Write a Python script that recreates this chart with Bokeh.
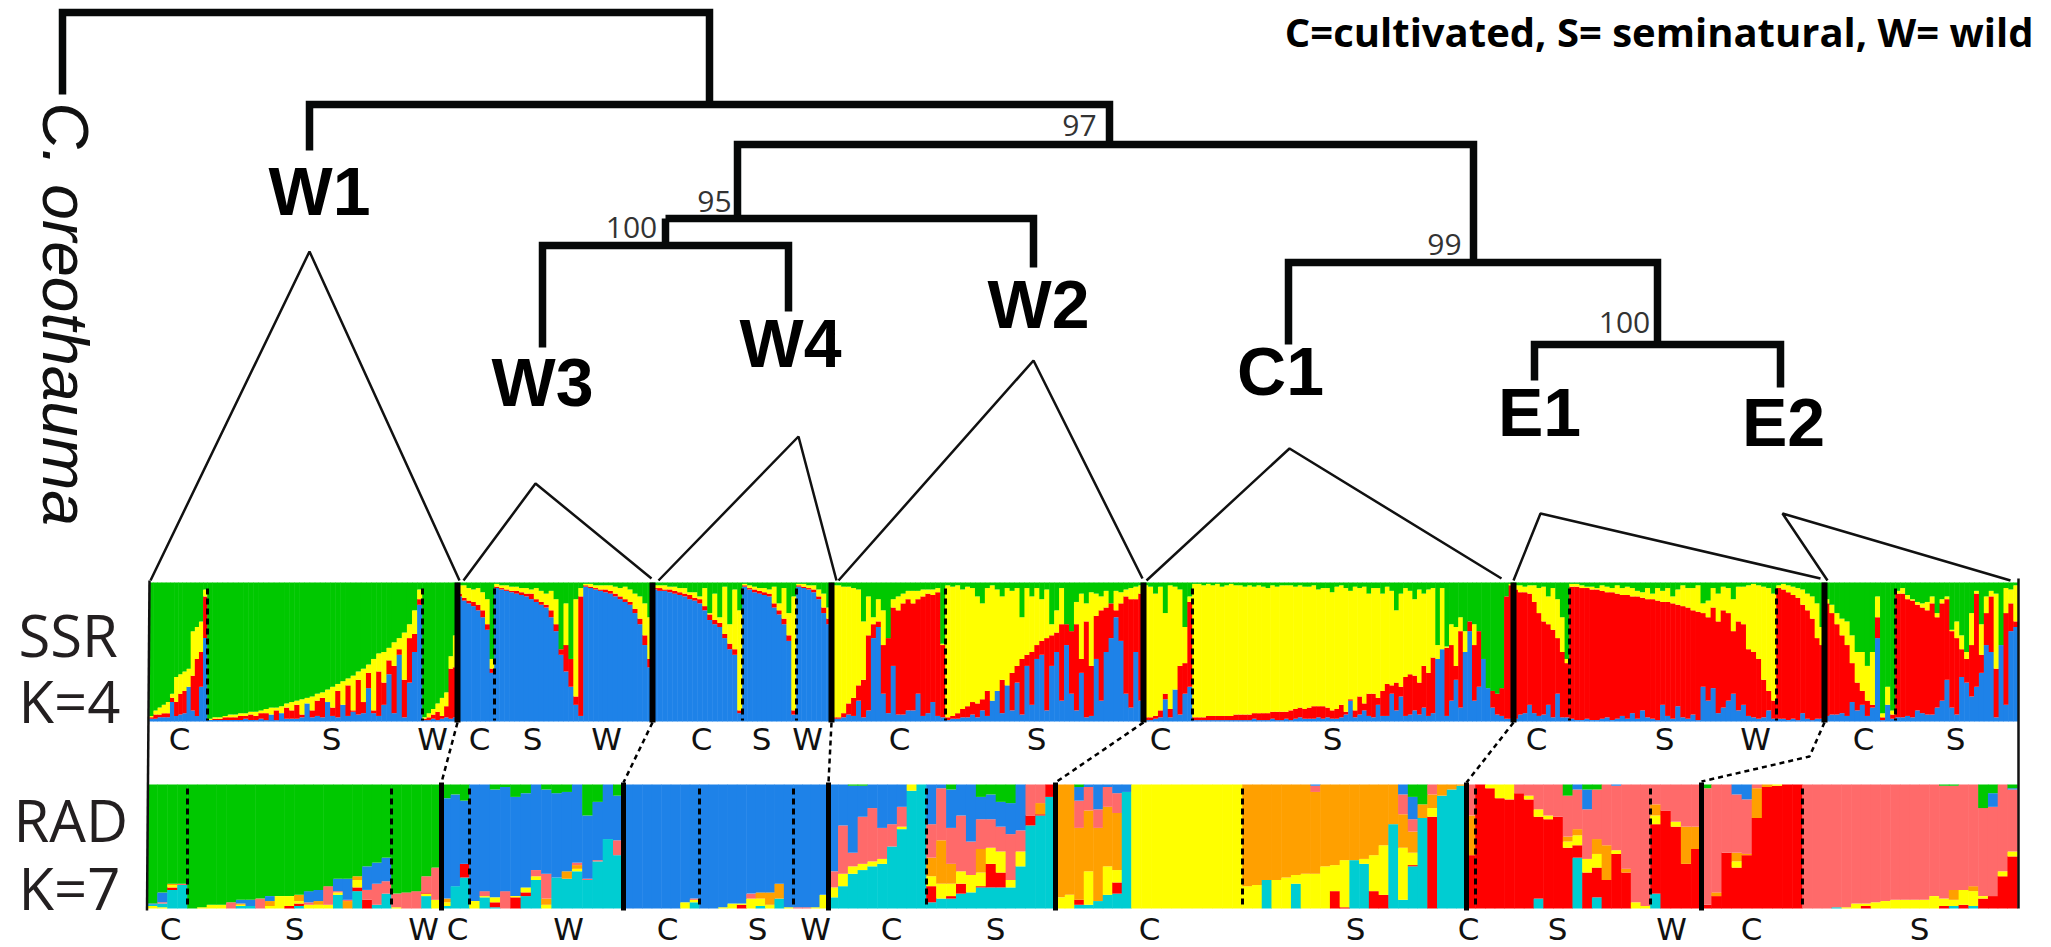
from math import pi
from bokeh.plotting import figure
from bokeh.models import ColumnDataSource, Range1d
from bokeh.core.properties import value
from bokeh.embed import file_html
from bokeh.resources import INLINE

# ---------- palette ----------
COL = {"G": "#00C800", "B": "#1E82E8", "R": "#FF0000", "Y": "#FFFF00",
       "C": "#00CDD2", "P": "#FF6A6A", "O": "#FFA000"}

# ---------- SSR K=4: cumulative tops (%) per individual: blue, red, yellow; green fills to 100 ----------
w1c_b = [2,2,3,3,3,14,4,5,6,26,8,4,25,60]
w1c_r = [3,5,5,6,6,17,14,20,22,25,33,45,50,90]
w1c_y = [4,8,10,12,14,20,32,34,36,38,65,68,72,95]
w1s_b = [1,1,1,1,1,1,1,2,1,1,2,1,8,1,10,2,2,2,3,14,3,4,3,20,4,3,22,4,7,5,6,24,6,4,12,34,6,48,3,28,50,84]
w1s_r = [1,2,2,3,3,3,4,4,5,4,6,6,5,8,6,10,8,12,5,13,8,15,17,14,10,22,12,26,8,30,14,35,8,36,28,44,40,52,30,60,63,88]
w1s_y = [2,3,3,4,5,5,6,6,7,7,8,9,10,10,11,13,14,15,16,17,18,20,21,23,25,27,29,31,33,36,38,41,45,49,50,53,57,60,64,70,80,95]
w1w_b = [1,1,2,1,2,3,2,3]
w1w_r = [2,3,5,7,4,11,38,39]
w1w_y = [3,6,9,13,17,21,47,62]
w3c_b = [90,87,85,83,80,75,66,35]
w3c_r = [92,89,87,86,84,80,70,38]
w3c_y = [98,98,96,95,96,93,88,45]
w3s_b = [96,95,94,93,92,91,90,88,86,84,82,75,65,48,36,25,12,4]
w3s_r = [97,96,95,94,94,93,92,92,88,86,84,80,70,52,55,45,18,90]
w3s_y = [99,98,98,97,97,96,96,95,96,94,92,94,88,52,85,45,88,96]
w3w_b = [97,96,95,94,93,92,90,88,86,84,78,70,55,39]
w3w_r = [98,97,96,95,95,94,92,90,88,86,81,74,62,45]
w3w_y = [99,99,98,98,98,98,97,96,97,95,92,90,85,75]
w4c_b = [95,94,94,93,92,91,90,88,87,85,80,73,70,68,60,52,48,6]
w4c_r = [96,96,95,95,94,93,92,91,89,88,83,77,73,71,63,56,52,8]
w4c_y = [98,98,98,97,97,96,96,93,93,90,96,78,92,75,97,70,95,80]
w4s_b = [97,95,93,92,91,90,82,77,70,58,5]
w4s_r = [98,96,95,94,93,92,85,80,74,62,8]
w4s_y = [99,98,97,96,96,95,97,85,96,78,90]
w4w_b = [97,96,95,93,88,78,70]
w4w_r = [98,97,96,95,90,82,74]
w4w_y = [99,99,98,98,95,92,82]
w2c_b = [2,2,3,5,4,15,3,8,60,68,20,6,40,5,5,8,8,20,4,6,14,4,3]
w2c_r = [3,3,6,13,17,26,30,62,70,72,55,70,82,80,85,88,85,88,90,92,91,93,55]
w2c_y = [98,98,97,97,96,95,72,90,75,88,80,60,88,90,92,94,94,94,95,95,95,96,56]
w2s_b = [1,2,2,3,3,5,3,8,4,20,25,6,32,8,28,5,40,12,45,48,8,40,50,15,55,20,8,35,3,4,45,15,50,60,75,58,20,10,50,15]
w2s_r = [3,4,6,9,11,14,13,16,22,15,22,30,26,35,40,45,48,50,55,58,60,62,64,70,71,71,70,45,72,40,76,80,82,85,80,85,90,88,88,92]
w2s_y = [98,97,98,95,97,96,90,85,96,98,95,90,96,94,96,75,96,90,96,88,95,70,80,96,70,65,86,92,85,93,92,90,94,85,94,93,95,96,97,98]
c1c_b = [1,1,2,3,16,3,23,5,20,25]
c1c_r = [3,3,4,8,20,9,23,40,42,86]
c1c_y = [98,97,92,97,78,98,97,95,68,90]
c1s_b = [1,1,1,1,1,1,1,1,1,1,1,1,1,2,1,1,1,2,1,1,2,1,2,3,2,2,2,3,2,3,2,2,3,5,15,3,5,8,4,3,12,4,4,20,8,18,4,5,8,5,10,4,6,50,52,4,15,30,10,70,65,15,25,60,40,10,5,4,2,2]
c1s_r = [3,3,3,4,4,4,4,4,4,5,5,5,5,6,6,6,6,7,7,7,7,8,9,10,9,10,11,11,11,10,8,9,12,7,16,8,18,13,20,20,17,22,27,26,28,25,32,34,33,28,40,35,46,45,52,53,55,40,65,50,75,55,78,82,85,82,75,88,95,98]
c1s_y = [99,99,98,99,98,99,97,98,99,98,98,97,98,97,98,97,96,98,97,98,98,98,97,98,97,97,98,95,96,96,93,97,98,96,94,97,96,97,92,96,96,92,97,94,80,92,96,94,88,95,92,95,96,55,96,54,70,68,75,65,72,70,65,45,24,22,20,24,90,99]
e1c_b = [2,5,6,12,6,4,5,12,3,20,3,3]
e1c_r = [95,93,93,92,86,78,72,70,66,60,50,42]
e1c_y = [98,98,97,98,98,96,97,90,96,88,75,45]
e1s_b = [2,1,1,2,1,1,2,3,1,2,4,2,6,2,8,3,2,1,12,4,2,11,3,2,5,1,25,15,24,6,10,15,20,8,12,4,3,2,3,8,2]
e1s_r = [97,97,96,96,95,95,94,93,93,92,91,91,90,90,89,88,88,87,86,86,85,84,83,82,80,79,78,75,82,72,80,78,65,72,70,52,50,45,30,22,15]
e1s_y = [99,99,98,97,97,96,98,97,96,98,96,97,96,94,93,96,92,96,94,96,90,95,98,96,96,98,85,87,96,92,97,96,88,97,97,98,99,98,97,96,92]
e1w_b = [2,2,1,2,1,6,2,1,2,2]
e1w_r = [96,95,93,91,89,84,80,74,60,55]
e1w_y = [98,99,98,97,96,95,92,90,85,68]
e2c_b = [4,5,5,6,4,14,8,12,4,10,60,1,15,2]
e2c_r = [85,78,70,62,55,42,28,22,15,12,75,3,12,5]
e2c_y = [88,84,78,74,72,62,50,50,40,50,90,6,25,8]
e2s_b = [3,3,4,3,8,6,5,5,10,15,30,10,5,32,28,18,25,35,55,50,3,70,12,65,68]
e2s_r = [92,92,88,87,84,82,80,85,75,85,88,65,60,52,45,55,92,48,78,90,38,60,78,85,72]
e2s_y = [94,96,91,88,86,85,86,90,78,88,90,66,72,62,50,78,94,70,90,94,92,55,96,95,98]

# ---------- RAD K=7: each individual is "colour + cumulative top %" from bottom to top ----------
rad_w1c = ["Y2 C3 B4 G100", "Y1 C4 P5 B13 G100", "C15 R17 Y19 O20 G100", "C19 P20 G100"]
rad_w1s = ["G100", "Y1 G100", "Y3 G100", "Y3 G100", "P5 G100", "C2 Y3 O4 B7 G100", "C2 B7 G100", "P8 G100",
           "Y2 O6 B10 G100", "Y10 G100", "R2 Y10 G100", "C2 R4 Y6 O11 G100", "Y3 P5 B14 G100", "Y3 O6 B15 G100",
           "Y3 P18 G100", "C11 Y13 P14 B24 G100", "O6 P7 B24 G100", "C14 R17 Y23 O26 G100", "R7 P15 B34 G100",
           "C3 P20 B37 G100", "C12 P22 B41 G100"]
rad_w1w = ["Y1 P12 G100", "P13 G100", "P14 G100", "C10 Y12 R13 P26 G100", "Y7 P33 G100"]
rad_w3c = ["C2 Y5 O8 B89 G100", "C18 B92 G100", "C25 R36 B87 G100"]
rad_w3w = ["Y6 B100", "C9 Y10 P14 B100", "C1 R5 Y9 B96 G100", "P14 B98 G100", "R9 Y10 B90 G100", "C10 R13 Y17 B93 G100",
           "C23 Y26 P31 B100", "Y3 O8 P28 B96 G100", "C25 B93 G100", "C24 O30 B94 G100", "C30 Y32 O35 P37 B100",
           "C23 P24 B75 G100", "C38 P39 B86 G100", "C56 B100", "C43 P55 B91 G100"]
rad_w4c = ["B100"] * 6 + ["Y5 B100", "C5 Y7 P8 B100"]
rad_w4s = ["B100", "B100", "Y1 B100", "Y4 B100", "R3 Y4 B100", "Y8 P12 B100", "C2 Y8 O13 B100", "Y3 O13 B100", "C8 O20 B100", "Y1 B100"]
rad_w4w = ["P1 B100", "P1 B100", "Y1 B100", "Y11 B100"]
rad_w2c = ["C9 Y17 P30 B100", "C18 Y28 P67 B100", "C28 Y34 P45 B99 G100", "C31 Y36 P74 B99 G100", "C34 Y38 P81 B100",
           "C36 Y40 P65 B100", "C50 P68 B100", "C64 Y66 P82 B100", "C95 Y100", "C100"]
rad_w2s = ["C5 R18 Y26 O41 P68 B100", "C8 Y20 O55 P97 B100", "C8 R10 Y20 O36 P65 B96 G100", "C12 R20 Y30 P75 B100",
           "C13 Y27 P54 B100", "C17 R18 Y29 O48 P72 B90 G100", "C17 R36 Y49 P72 B92 G100", "C17 R29 Y46 P66 B86 G100",
           "C17 Y23 P60 B85 G100", "C34 Y46 P63 B100", "C67 R75 P100", "C75 R76 O85 P100", "C90 R100"]
rad_x1 = ["Y9 O100", "Y11 O100", "C3 R7 O65 P87 B98 G100", "C3 Y30 O79 P98 B100", "C6 O65 P80 B100",
          "C11 Y34 O82 P98 B100", "C12 R21 Y31 O77 P93 B100", "C94 B100"]
rad_c1c = ["Y100"] * 11
rad_c1s = ["Y18 O100", "Y19 O100", "C23 O100", "Y23 O100", "Y25 O100", "C20 Y27 O100", "Y28 O100", "Y28 O94 P99 B100",
           "Y34 O100", "R14 Y35 O100", "R1 Y39 O100", "C39 O100", "C36 Y40 O100", "R14 Y43 O100", "R11 Y51 O100", "C68 O100",
           "C7 Y49 O76 P92 B100", "C34 R35 Y45 O62 P72 B90 G100", "C73 O84 G100", "R74 Y81 O92 P100", "C91 O100", "C96 O100", "C99 O100"]
rad_e1c = ["R43 O75 P100"]
rad_e1s = ["R100", "R97 Y100", "R89 Y100", "R88 Y100", "R93 P100", "R88 Y91 P100", "C8 R74 Y80 P100", "R72 Y75 P100", "R74 P100",
           "R49 Y54 O58 P91 G100", "C41 R51 Y59 O64 P96 B100", "R29 Y40 P80 B96 G100", "C9 R33 Y44 O56 P96 G100", "R23 O51 P100",
           "R44 Y47 P99 B100", "R29 O32 P100", "Y5 P100", "Y2 P100"]
rad_e1w = ["C12 R68 Y75 O84 P100", "R79 P100", "R66 Y70 P100", "R36 O66 P100", "R48 O66 P100"]
rad_e2c = ["R3 P97 G100", "R10 O13 P100", "R45 P100", "R33 Y38 O45 P92 B100", "R43 O44 P88 B100", "R73 O97 P100", "R98 O100", "R99 Y100", "R100", "R100"]
rad_e2s = ["P100", "P100", "P100", "C1 P100", "Y1 P100", "Y4 P100", "R2 Y4 P100", "Y5 P100", "Y6 P100", "Y7 P100", "Y7 P100", "Y7 P100", "Y7 P100",
           "Y10 P100", "R2 Y8 P99 G100", "C2 Y7 O15 P99 G100", "R3 Y15 P100", "C2 Y14 O18 P100", "R8 Y10 P81 G100", "R10 P82 B93 G100",
           "R26 Y30 P100", "R42 Y46 P96 B97 G100"]

# ---------- texts ----------
clade_names = ["W1", "W3", "W4", "W2", "C1", "E1", "E2"]
support_values = ["97", "95", "100", "99", "100"]
ssr_letters = list("CSWCSWCSWCSCSCSWCS")
rad_letters = list("CSWCWCSWCSCSCSWCS")

# ---------- layout (image pixel positions) ----------
W, H = 2051, 947
SSR_TOP, SSR_BOT = 582, 721
RAD_TOP, RAD_BOT = 784, 908
ssr_groups = [
    (149, 207, w1c_b, w1c_r, w1c_y), (207, 422, w1s_b, w1s_r, w1s_y), (422, 457, w1w_b, w1w_r, w1w_y),
    (457, 494, w3c_b, w3c_r, w3c_y), (494, 583, w3s_b, w3s_r, w3s_y), (583, 652, w3w_b, w3w_r, w3w_y),
    (652, 742, w4c_b, w4c_r, w4c_y), (742, 796, w4s_b, w4s_r, w4s_y), (796, 831, w4w_b, w4w_r, w4w_y),
    (831, 945, w2c_b, w2c_r, w2c_y), (945, 1143, w2s_b, w2s_r, w2s_y),
    (1143, 1192, c1c_b, c1c_r, c1c_y), (1192, 1513, c1s_b, c1s_r, c1s_y),
    (1513, 1569, e1c_b, e1c_r, e1c_y), (1569, 1776, e1s_b, e1s_r, e1s_y), (1776, 1824, e1w_b, e1w_r, e1w_y),
    (1824, 1895, e2c_b, e2c_r, e2c_y), (1895, 2018, e2s_b, e2s_r, e2s_y),
]
rad_groups = [
    (147, 187, rad_w1c), (187, 391, rad_w1s), (391, 441, rad_w1w), (441, 469, rad_w3c), (469, 623, rad_w3w),
    (623, 699, rad_w4c), (699, 793, rad_w4s), (793, 828, rad_w4w), (828, 926, rad_w2c), (926, 1055, rad_w2s),
    (1055, 1131, rad_x1), (1131, 1242, rad_c1c), (1242, 1466, rad_c1s), (1466, 1475, rad_e1c), (1475, 1650, rad_e1s),
    (1650, 1701, rad_e1w), (1701, 1802, rad_e2c), (1802, 2017, rad_e2s),
]
ssr_solid = [457, 652, 831, 1143, 1513, 1824]
rad_solid = [441, 623, 828, 1055, 1466, 1701]
ssr_dash = [207, 422, 494, 742, 796, 945, 1192, 1569, 1776, 1895]
rad_dash = [187, 391, 469, 699, 793, 926, 1242, 1475, 1650, 1802]
ssr_x = [179, 331, 432, 479, 532, 606, 701, 761, 807, 899, 1036, 1160, 1332, 1536, 1664, 1755, 1863, 1955]
rad_x = [170, 294, 423, 457, 568, 667, 757, 815, 891, 995, 1149, 1355, 1468, 1557, 1671, 1751, 1919]

# ---------- figure: the main scales are image pixels, percentages use their own y ranges ----------
PX0, PX1, PY0, PY1 = 0, W, 0, H
p = figure(width=W, height=H, x_range=(PX0, PX1), y_range=(PY1, PY0), output_backend="svg",
           toolbar_location=None, x_axis_location=None, y_axis_location=None, min_border=0,
           background_fill_color="white", border_fill_color="white", outline_line_color=None)
p.grid.visible = False


def pct_range(top, bot):
    k = (bot - top) / 100.0
    return Range1d(start=(bot - PY1) / k, end=(bot - PY0) / k)


p.extra_y_ranges = {"ssr": pct_range(SSR_TOP, SSR_BOT), "rad": pct_range(RAD_TOP, RAD_BOT)}

# SSR stacked bars
sx, sw, sb, st, sc = [], [], [], [], []
for x0, x1, b_, r_, y_ in ssr_groups:
    n = len(y_)
    w = (x1 - x0) / n
    for i, (b, r, y) in enumerate(zip(b_, r_, y_)):
        r = min(r, y)
        b = min(b, r)
        for bot, top, c in ((0, b, "B"), (b, r, "R"), (r, y, "Y"), (y, 100, "G")):
            if top > bot:
                sx.append(x0 + (i + .5) * w); sw.append(w + .5); sb.append(bot); st.append(top); sc.append(COL[c])
p.vbar(x="x", width="w", bottom="b", top="t", fill_color="c", line_color=None,
       source=ColumnDataSource(dict(x=sx, w=sw, b=sb, t=st, c=sc)), y_range_name="ssr")

# RAD stacked bars
sx, sw, sb, st, sc = [], [], [], [], []
for x0, x1, bars in rad_groups:
    w = (x1 - x0) / len(bars)
    for i, bar in enumerate(bars):
        bot = 0
        for tok in bar.split():
            top = float(tok[1:])
            sx.append(x0 + (i + .5) * w); sw.append(w + .5); sb.append(bot); st.append(top); sc.append(COL[tok[0]])
            bot = top
p.vbar(x="x", width="w", bottom="b", top="t", fill_color="c", line_color=None,
       source=ColumnDataSource(dict(x=sx, w=sw, b=sb, t=st, c=sc)), y_range_name="rad")

# separators
for x in ssr_solid:
    p.line([x, x], [SSR_TOP, SSR_BOT + 1], line_color="black", line_width=6)
for x in rad_solid:
    p.line([x, x], [RAD_TOP - 2, RAD_BOT + 2], line_color="black", line_width=5)
for x in ssr_dash:
    p.line([x, x], [SSR_TOP + 6, SSR_BOT - 1], line_color="black", line_width=3, line_dash="6 4")
for x in rad_dash:
    p.line([x, x], [RAD_TOP + 4, RAD_BOT], line_color="black", line_width=3, line_dash="6 4")
p.line([149, 146.5], [580, 910], line_color="#111111", line_width=2.5)
p.line([2018, 2018], [578, 908], line_color="#111111", line_width=2.5)

# dashed connectors between SSR and RAD
for xs, ys in [([457, 441], [722, 782]), ([652, 623], [722, 782]), ([831, 828], [722, 782]),
               ([1143, 1055], [722, 782]), ([1513, 1466], [722, 782]),
               ([1824, 1809, 1701], [722, 756, 781])]:
    p.line(xs, ys, line_color="black", line_width=2.5, line_dash="5 4")

# tree
tree = [
    ([62, 62, 709, 709], [94, 12, 12, 104]),
    ([309, 309, 1109, 1109], [150, 104, 104, 144]),
    ([737, 737, 1473, 1473], [218, 144, 144, 262]),
    ([665, 665], [218, 245]),
    ([665, 1033, 1033], [218, 218, 267]),
    ([542, 542, 788, 788], [347, 245, 245, 311]),
    ([1288, 1288, 1657, 1657], [344, 262, 262, 344]),
    ([1534, 1534, 1780, 1780], [380, 344, 344, 387]),
]
for xs, ys in tree:
    p.line(xs, ys, line_color="#060808", line_width=7.5, line_join="miter")

# wedges from clade to bar group
wedges = [
    ([150, 309, 459], [580, 251, 580]), ([463, 535, 651], [580, 483, 578]),
    ([658, 798, 836], [580, 436, 580]), ([838, 1033, 1142], [580, 360, 578]),
    ([1146, 1289, 1501], [580, 448, 578]), ([1513, 1540, 1820], [580, 513, 578]),
    ([1827, 1782, 2010], [580, 513, 580]),
]
for xs, ys in wedges:
    p.line(xs, ys, line_color="#111111", line_width=2.5)

# texts
def txt(xs, ys, labels, font, size, color="black", style="normal", angle=0, align="center", base="middle"):
    p.text(xs, ys, text=labels, text_font=value(font), text_font_size=value(size), text_color=color,
           text_font_style=style, angle=angle, text_align=align, text_baseline=base)


txt([319, 542, 790, 1038, 1280, 1539, 1783], [190, 381, 342, 303, 370, 411, 421], clade_names,
    "Liberation Sans", "68px", style="bold")
txt([1079, 714, 631, 1444, 1624], [125, 201, 227, 244, 322], support_values, "Open Sans", "30px", color="#333333")
txt([2033], [31], ["C=cultivated, S= seminatural, W= wild"], "Open Sans", "40px", style="bold", align="right")
txt([64], [102], ["C. oreothauma"], "Liberation Sans", "64px", color="#111111", style="italic", angle=-pi / 2, align="left")
txt([18, 18, 13, 18], [634, 700, 819, 887], ["SSR", "K=4", "RAD", "K=7"], "Open Sans", "58px", color="#231F20", align="left")
txt(ssr_x, [738] * len(ssr_x), ssr_letters, "DejaVu Sans", "31px", color="#111111")
txt(rad_x, [928] * len(rad_x), rad_letters, "DejaVu Sans", "31px", color="#111111")

open("out.html", "w").write(file_html(p, INLINE))
